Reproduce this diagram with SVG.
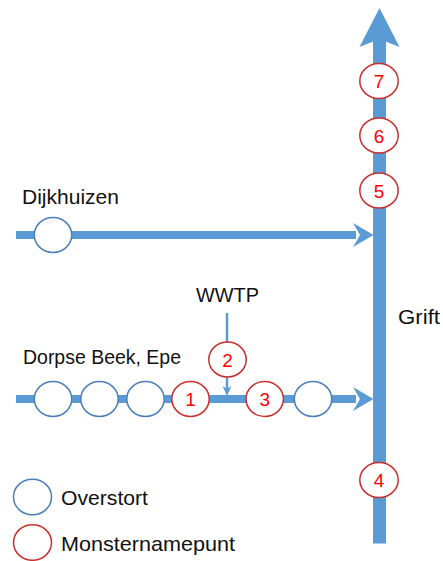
<svg xmlns="http://www.w3.org/2000/svg" width="443" height="561" viewBox="0 0 443 561">
<style>
.lbl{font-family:"Liberation Sans",Arial,sans-serif;font-size:21px;fill:#111}
.num{font-family:"Liberation Sans",Arial,sans-serif;font-size:19px;fill:#FF0000;text-anchor:middle}
.ov{fill:#fff;stroke:#4A7EBB;stroke-width:1.5}
.mp{fill:#fff;stroke:#C9302C;stroke-width:1.5}
.riv{fill:#5B9BD5}
</style>
<rect width="443" height="561" fill="#fff"/>
<g id="connectors">
  <rect class="riv" x="373" y="38" width="13" height="505.5"/>
  <polygon class="riv" points="379.5,8 399.5,47 379.5,39 359.5,47"/>
  <rect class="riv" x="16" y="231" width="340" height="8"/>
  <polygon class="riv" points="373.5,235 353,223 360,235 353,247"/>
  <rect class="riv" x="16" y="395" width="340" height="8"/>
  <polygon class="riv" points="373.5,399 353,387 360,399 353,411"/>
  <line x1="227" y1="313" x2="227" y2="390" stroke="#5B9BD5" stroke-width="2.5"/>
  <polygon class="riv" points="227,396 222.5,386 227,389 231.5,386"/>
</g>
<g id="grift"><text class="lbl" x="398" y="324" textLength="42" lengthAdjust="spacingAndGlyphs">Grift</text></g>
<g id="dijkhuizen"><text class="lbl" x="22" y="204" textLength="97" lengthAdjust="spacingAndGlyphs">Dijkhuizen</text></g>
<g id="dorpse-beek"><text class="lbl" x="23" y="364" textLength="158" lengthAdjust="spacingAndGlyphs">Dorpse Beek, Epe</text></g>
<g id="wwtp"><text class="lbl" x="196" y="302" textLength="63" lengthAdjust="spacingAndGlyphs">WWTP</text></g>
<g id="ov-d1"><ellipse class="ov" cx="53" cy="235" rx="18.7" ry="17.5"/></g>
<g id="ov-b1"><ellipse class="ov" cx="53" cy="399" rx="18.7" ry="17.5"/></g>
<g id="ov-b2"><ellipse class="ov" cx="99.5" cy="399" rx="18.7" ry="17.5"/></g>
<g id="ov-b3"><ellipse class="ov" cx="145.5" cy="399" rx="18.7" ry="17.5"/></g>
<g id="ov-b4"><ellipse class="ov" cx="313" cy="399" rx="18.7" ry="17.5"/></g>
<g id="mp1"><ellipse class="mp" cx="190.5" cy="399" rx="18.7" ry="17.5"/><text class="num" x="190.5" y="406">1</text></g>
<g id="mp2"><ellipse class="mp" cx="227.5" cy="359.5" rx="18.7" ry="17.5"/><text class="num" x="227.5" y="366.5">2</text></g>
<g id="mp3"><ellipse class="mp" cx="264.7" cy="399" rx="18.7" ry="17.5"/><text class="num" x="264.7" y="406">3</text></g>
<g id="mp4"><ellipse class="mp" cx="379" cy="480" rx="19.2" ry="17.5"/><text class="num" x="379" y="487">4</text></g>
<g id="mp5"><ellipse class="mp" cx="379" cy="190.5" rx="19.2" ry="17.5"/><text class="num" x="379" y="197.5">5</text></g>
<g id="mp6"><ellipse class="mp" cx="379" cy="135.5" rx="19.2" ry="17.5"/><text class="num" x="379" y="142.5">6</text></g>
<g id="mp7"><ellipse class="mp" cx="379" cy="81" rx="19.2" ry="17.5"/><text class="num" x="379" y="88">7</text></g>
<g id="legend-overstort"><ellipse class="ov" cx="32.5" cy="497" rx="19" ry="17.8"/><text class="lbl" x="61" y="505" textLength="87" lengthAdjust="spacingAndGlyphs">Overstort</text></g>
<g id="legend-monsternamepunt"><ellipse class="mp" cx="32.5" cy="542.5" rx="19" ry="17.8"/><text class="lbl" x="61" y="551" textLength="174" lengthAdjust="spacingAndGlyphs">Monsternamepunt</text></g>
</svg>
